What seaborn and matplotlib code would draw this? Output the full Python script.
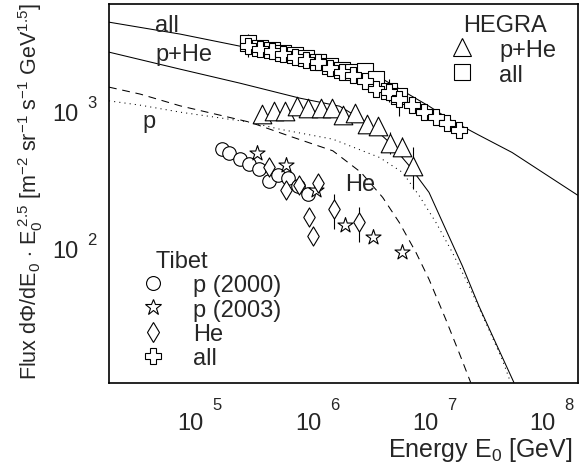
import numpy as np
import pandas as pd
import matplotlib
matplotlib.use("Agg")
import matplotlib.pyplot as plt
import seaborn as sns
from matplotlib.lines import Line2D
from matplotlib.ticker import FixedLocator, LogLocator, NullFormatter

# ---------------- data ----------------
# model curves (energy in GeV, flux*E^2.5)
all_E = [2.0e4, 8.1e4, 2.62e5, 8.5e5, 2.75e6, 4.06e6, 1.08e7, 1.70e7, 2.88e7, 5.53e7, 2.0e8]
all_F = [4385, 3589, 2931, 2438, 1991, 1742, 1069, 835, 657, 491, 240]

phe_E = [2.0e4, 8.1e4, 2.62e5, 8.5e5, 1.86e6, 3.35e6, 4.94e6, 7.33e6, 1.08e7, 1.50e7, 2.08e7, 2.88e7, 4.0e7, 5.73e7]
phe_F = [2650, 1991, 1574, 1224, 1069, 791, 583, 392, 251, 135, 73, 37.2, 20.1, 10.3]

p_E = [2.0e4, 3.7e4, 8.1e4, 3.19e5, 6.98e5, 1.63e6, 2.84e6, 4.34e6, 6.03e6, 8.36e6, 1.08e7, 1.50e7, 1.95e7, 2.45e7]
p_F = [1472, 1309, 1075, 817, 646, 505, 351, 231, 151, 91.4, 58.3, 29.8, 17.0, 10.3]

he_E = [2.0e4, 3.7e4, 8.1e4, 3.19e5, 5.74e5, 1.63e6, 4.07e6, 6.43e6, 8.91e6, 1.24e7, 1.71e7, 2.37e7, 3.29e7, 4.55e7, 5.37e7]
he_F = [1169, 1087, 967, 817, 726, 614, 452, 351, 237, 151, 91.4, 52.2, 28.2, 15.2, 10.3]

# HEGRA
hegra_phe_E = [4.02e5, 5.1e5, 6.37e5, 8.05e5, 1.01e6, 1.28e6, 1.6e6, 1.99e6, 2.5e6, 3.2e6, 3.99e6, 5.0e6, 6.3e6, 7.94e6]
hegra_phe_F = [935, 988, 988, 1064, 1034, 1034, 1034, 919, 951, 790, 761, 574, 534, 391]
hegra_phe_lo = [935, 988, 988, 1064, 1034, 1034, 1034, 919, 951, 790, 761, 477, 454, 265]
hegra_phe_hi = [935, 988, 988, 1064, 1034, 1034, 1034, 919, 951, 790, 761, 690, 635, 537]

hegra_all_E = [3.09e5, 3.88e5, 4.89e5, 6.12e5, 7.71e5, 9.68e5, 1.22e6, 1.53e6, 1.95e6, 2.42e6, 3.08e6, 3.82e6, 4.89e6, 6.03e6]
hegra_all_F = [3084, 2838, 2757, 2605, 2520, 2384, 2254, 2085, 1968, 1884, 1935, 1701, 1384, 1271]

# Tibet
tibet_all_E = [3.09e5, 3.88e5, 4.89e5, 6.12e5, 7.71e5, 9.68e5, 1.22e6, 1.53e6, 1.95e6, 2.42e6, 3.08e6, 3.82e6, 4.89e6, 6.03e6, 7.7e6, 9.8e6, 1.23e7, 1.55e7, 1.95e7]
tibet_all_F = [2944, 2786, 2681, 2563, 2427, 2329, 2230, 2014, 1905, 1811, 1637, 1423, 1360, 1203, 1087, 972, 885, 800, 714]
tibet_all_lo = [2438, 2786, 2681, 2563, 2427, 2329, 2230, 2014, 1905, 1811, 1637, 1423, 1144, 904, 1087, 972, 885, 800, 714]
tibet_all_hi = [3589, 2786, 2681, 2563, 2427, 2329, 2230, 2014, 1905, 1811, 1637, 1423, 1683, 1424, 1087, 972, 885, 800, 714]

tibet_p00_E = [1.84e5, 2.13e5, 2.62e5, 3.13e5, 3.83e5, 4.63e5, 5.56e5, 6.76e5, 8.22e5, 1.0e6]
tibet_p00_F = [525, 483, 439, 408, 375, 302, 336, 319, 280, 244]

tibet_p03_E = [3.64e5, 6.43e5, 1.18e6, 2.05e6, 3.57e6, 6.3e6]
tibet_p03_F = [483, 399, 261, 146, 119, 91.5]

tibet_he_E = [4.66e5, 6.43e5, 8.38e5, 1.03e6, 1.1e6, 1.22e6, 1.66e6, 2.7e6]
tibet_he_F = [387, 261, 286, 167, 121, 293, 189, 154]
tibet_he_lo = [387, 261, 286, 167, 121, 256, 135, 109]
tibet_he_hi = [387, 261, 286, 167, 121, 325, 244, 196]

xtick_vals = [1e5, 1e6, 1e7, 1e8]
xtick_exp = ["5", "6", "7", "8"]
ytick_vals = [1e2, 1e3]
ytick_exp = ["2", "3"]

# ---------------- style ----------------
sns.set_theme(style="white")
plt.rcParams["font.family"] = ["Liberation Sans", "DejaVu Sans"]
plt.rcParams["mathtext.fontset"] = "custom"
plt.rcParams["mathtext.rm"] = "Liberation Sans"
plt.rcParams["mathtext.it"] = "Liberation Sans:italic"
plt.rcParams["mathtext.bf"] = "Liberation Sans:bold"
plt.rcParams["mathtext.sf"] = "Liberation Sans"

fig = plt.figure(figsize=(5.85, 4.64), dpi=100)
ax = fig.add_axes([109 / 585, 1 - 383.5 / 464, 468.5 / 585, 378.5 / 464])
ax.set_xscale("log")
ax.set_yscale("log")
ax.set_xlim(2.0e4, 2.0e8)
ax.set_ylim(10.3, 5950)

lw = 0.75
sns.lineplot(x=all_E, y=all_F, ax=ax, color="black", lw=lw, sort=False)
sns.lineplot(x=phe_E, y=phe_F, ax=ax, color="black", lw=lw, sort=False)
sns.lineplot(x=p_E, y=p_F, ax=ax, color="black", lw=lw, sort=False, linestyle=(0, (7.5, 5.5)))
sns.lineplot(x=he_E, y=he_F, ax=ax, color="black", lw=lw, sort=False, linestyle=(0, (1.0, 4.0)))

def errs(F, lo, hi):
    F = np.array(F, float)
    return np.vstack([F - np.array(lo, float), np.array(hi, float) - F])

ekw = dict(fmt="none", ecolor="black", elinewidth=0.8, capsize=0, zorder=2)
ax.errorbar(hegra_phe_E, hegra_phe_F, yerr=errs(hegra_phe_F, hegra_phe_lo, hegra_phe_hi), **ekw)
ax.errorbar(tibet_all_E, tibet_all_F, yerr=errs(tibet_all_F, tibet_all_lo, tibet_all_hi), **ekw)
ax.errorbar(tibet_he_E, tibet_he_F, yerr=errs(tibet_he_F, tibet_he_lo, tibet_he_hi), **ekw)

mkw = dict(ax=ax, facecolor="white", edgecolor="black", linewidth=0.8, zorder=3, legend=False)
sns.scatterplot(x=hegra_all_E, y=hegra_all_F, marker="s", s=130, **mkw)
sns.scatterplot(x=tibet_all_E, y=tibet_all_F, marker="P", s=140, **mkw)
sns.scatterplot(x=hegra_phe_E, y=hegra_phe_F, marker="^", s=180, **mkw)
sns.scatterplot(x=tibet_p00_E, y=tibet_p00_F, marker="o", s=95, **mkw)
sns.scatterplot(x=tibet_p03_E, y=tibet_p03_F, marker="*", s=130, **mkw)
sns.scatterplot(x=tibet_he_E, y=tibet_he_F, marker="d", s=95, **mkw)

# curve labels
tfs = 17
ax.text(4.97e4, 4170, "all", fontsize=tfs, ha="left", va="center")
ax.text(4.97e4, 2565, "p+He", fontsize=tfs, ha="left", va="center")
ax.text(3.86e4, 830, "p", fontsize=tfs, ha="left", va="center")
ax.text(2.06e6, 290, "He", fontsize=tfs, ha="left", va="center")

# ticks (ROOT-like labels: "10" with a raised exponent)
ax.xaxis.set_major_locator(FixedLocator(xtick_vals))
ax.xaxis.set_minor_locator(LogLocator(base=10, subs=np.arange(2, 10), numticks=20))
ax.xaxis.set_minor_formatter(NullFormatter())
ax.yaxis.set_major_locator(FixedLocator(ytick_vals))
ax.yaxis.set_minor_locator(LogLocator(base=10, subs=np.arange(2, 10), numticks=20))
ax.yaxis.set_minor_formatter(NullFormatter())
ax.tick_params(which="both", direction="in", top=False, right=False, color="black", width=1.0,
               labelbottom=False, labelleft=False)
ax.tick_params(which="major", length=16)
ax.tick_params(which="minor", length=8)
for s in ax.spines.values():
    s.set_color("black")
    s.set_linewidth(1.2)

xtr = ax.get_xaxis_transform()
ytr = ax.get_yaxis_transform()
for v, e in zip(xtick_vals, xtick_exp):
    ax.annotate("10", xy=(v, 0), xycoords=xtr, xytext=(0, -46.5), textcoords="offset pixels",
                ha="center", va="baseline", fontsize=17, annotation_clip=False)
    ax.annotate(e, xy=(v, 0), xycoords=xtr, xytext=(22, -26.5), textcoords="offset pixels",
                ha="left", va="baseline", fontsize=12, annotation_clip=False)
for v, e in zip(ytick_vals, ytick_exp):
    ax.annotate("10", xy=(0, v), xycoords=ytr, xytext=(-31, -9.5), textcoords="offset pixels",
                ha="right", va="baseline", fontsize=17, annotation_clip=False)
    ax.annotate(e, xy=(0, v), xycoords=ytr, xytext=(-22, 3), textcoords="offset pixels",
                ha="left", va="baseline", fontsize=12, annotation_clip=False)

ax.set_xlabel(r"Energy E$_0$ [GeV]", fontsize=18, ha="right", va="top")
ax.xaxis.set_label_coords(0.990, -0.138)
ax.set_ylabel(r"Flux d$\Phi$/dE$_0$ $\cdot$ E$_0^{\ 2.5}$ [m$^{-2}$ sr$^{-1}$ s$^{-1}$ GeV$^{1.5}$]",
              fontsize=15.5)
ax.yaxis.set_label_coords(-0.1366, 0.507)

# legends
def h(marker, ms):
    return Line2D([], [], marker=marker, markersize=ms, markerfacecolor="white",
                  markeredgecolor="black", markeredgewidth=0.8, linestyle="none")

lfs = 17
leg1 = ax.legend([h("^", 13.5), h("s", 11.5)], ["p+He", "all"], title="HEGRA",
                 loc="upper left", bbox_to_anchor=(0.7086, 1.005), frameon=False,
                 fontsize=lfs, title_fontsize=lfs, handletextpad=1.17, labelspacing=0.12,
                 borderpad=0.0, handlelength=0.8)
ax.add_artist(leg1)
leg2 = ax.legend([h("o", 10), h("*", 12), h("d", 10), h("P", 12)],
                 ["p (2000)", "p (2003)", "He", "all"], title="  Tibet",
                 loc="upper left", bbox_to_anchor=(0.0483, 0.3817), frameon=False,
                 fontsize=lfs, title_fontsize=lfs, handletextpad=1.3, labelspacing=0.1,
                 borderpad=0.0, handlelength=0.8, alignment="left")

fig.savefig("out.png", dpi=100)
